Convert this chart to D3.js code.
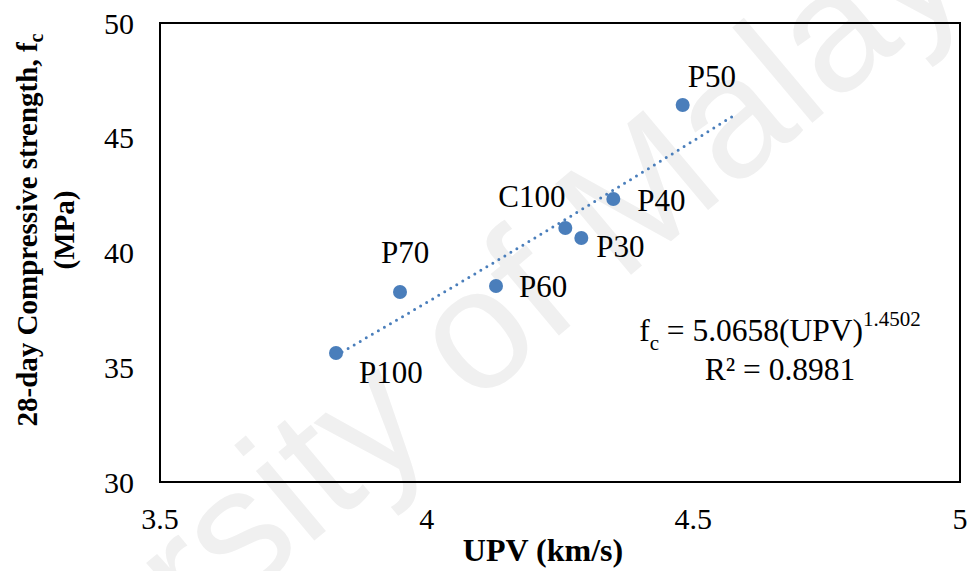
<!DOCTYPE html>
<html>
<head>
<meta charset="utf-8">
<script src="https://cdn.jsdelivr.net/npm/d3@7"></script>
<style>
  body { margin: 0; background: #fff; }
  text { font-family: "Liberation Serif", "Times New Roman", serif; }
  text.mark { font-family: "Liberation Sans", Arial, sans-serif; }
</style>
</head>
<body>
<script>
const width = 971
const height = 571
const margin = {top: 23, right: 11, bottom: 89, left: 160}

// data
const mixes = ['P100', 'P70', 'P60', 'C100', 'P30', 'P40', 'P50']
const upv = [3.83, 3.95, 4.13, 4.26, 4.29, 4.35, 4.48]
const strength = [35.62, 38.28, 38.54, 41.07, 40.63, 42.33, 46.43]
const xTicks = [3.5, 4, 4.5, 5]
const yTicks = [30, 35, 40, 45, 50]
const fitCoef = 5.0658
const fitExp = 1.4502
const fitR2 = 0.8981
const fitRange = [3.83, 4.58]

// label offsets [dx, dy] from each point to the text start / baseline
const labelPos = [[23, 30], [-19, -29], [23, 11], [-67, -21], [15, 19], [24, 12], [5, -18]]

const blue = '#4a7ebb'

const svg = d3.select('body')
  .append('svg')
  .attr('width', width)
  .attr('height', height)

// faint watermark behind the chart
svg.append('text')
  .classed('mark', true)
  .attr('transform', 'translate(452,425) rotate(-40)')
  .attr('text-anchor', 'middle')
  .attr('font-size', 172)
  .attr('fill', '#f0f0f0')
  .text('University of Malaya')

const x = d3.scaleLinear()
  .domain([3.5, 5])
  .range([margin.left, width - margin.right])

const y = d3.scaleLinear()
  .domain([30, 50])
  .range([height - margin.bottom, margin.top])

// plot frame
svg.append('rect')
  .attr('x', x(3.5))
  .attr('y', y(50))
  .attr('width', x(5) - x(3.5))
  .attr('height', y(30) - y(50))
  .attr('fill', 'none')
  .attr('stroke', '#000')
  .attr('stroke-width', 2)

svg.append('g')
  .selectAll('text')
  .data(yTicks)
  .enter()
  .append('text')
  .attr('x', x(3.5) - 26)
  .attr('y', (d) => y(d))
  .attr('dy', '0.35em')
  .attr('text-anchor', 'end')
  .attr('font-size', 30)
  .text((d) => d)

svg.append('g')
  .selectAll('text')
  .data(xTicks)
  .enter()
  .append('text')
  .attr('x', (d) => x(d))
  .attr('y', y(30) + 47)
  .attr('text-anchor', 'middle')
  .attr('font-size', 30)
  .text((d) => d)

// axis titles
svg.append('text')
  .attr('x', 543)
  .attr('y', 561)
  .attr('text-anchor', 'middle')
  .attr('font-size', 32)
  .attr('font-weight', 'bold')
  .text('UPV (km/s)')

const yTitle = svg.append('text')
  .attr('transform', 'translate(37,230) rotate(-90)')
  .attr('text-anchor', 'middle')
  .attr('font-size', 29)
  .attr('font-weight', 'bold')
yTitle.append('tspan').text('28-day Compressive strength, f')
yTitle.append('tspan').attr('dy', 6).attr('font-size', 20).text('c')

svg.append('text')
  .attr('transform', 'translate(74,230) rotate(-90)')
  .attr('text-anchor', 'middle')
  .attr('font-size', 29)
  .attr('font-weight', 'bold')
  .text('(MPa)')

// power trendline
const fitX = d3.range(fitRange[0], fitRange[1] + 0.001, 0.01)
const line = d3.line()
  .x((d) => x(d))
  .y((d) => y(fitCoef * Math.pow(d, fitExp)))

svg.append('path')
  .datum(fitX)
  .attr('d', line)
  .attr('fill', 'none')
  .attr('stroke', blue)
  .attr('stroke-width', 3)
  .attr('stroke-linecap', 'round')
  .attr('stroke-dasharray', '0 7')

const points = mixes.map((m, i) => ({name: m, x: upv[i], y: strength[i], pos: labelPos[i]}))

svg.append('g')
  .selectAll('circle')
  .data(points)
  .enter()
  .append('circle')
  .attr('cx', (d) => x(d.x))
  .attr('cy', (d) => y(d.y))
  .attr('r', 7)
  .attr('fill', blue)

svg.append('g')
  .selectAll('text')
  .data(points)
  .enter()
  .append('text')
  .attr('x', (d) => x(d.x) + d.pos[0])
  .attr('y', (d) => y(d.y) + d.pos[1])
  .attr('font-size', 31)
  .text((d) => d.name)

// equation
const eq = svg.append('text')
  .attr('x', 780)
  .attr('y', 341)
  .attr('text-anchor', 'middle')
  .attr('font-size', 31.5)
eq.append('tspan').text('f')
eq.append('tspan').attr('dy', 9).attr('font-size', 21).text('c')
eq.append('tspan').attr('dy', -9).text(' = ' + fitCoef.toFixed(4) + '(UPV)')
eq.append('tspan').attr('dy', -15).attr('font-size', 21).text(fitExp.toFixed(4))

svg.append('text')
  .attr('x', 780)
  .attr('y', 380)
  .attr('text-anchor', 'middle')
  .attr('font-size', 31.5)
  .text('R² = ' + fitR2)
</script>
</body>
</html>
